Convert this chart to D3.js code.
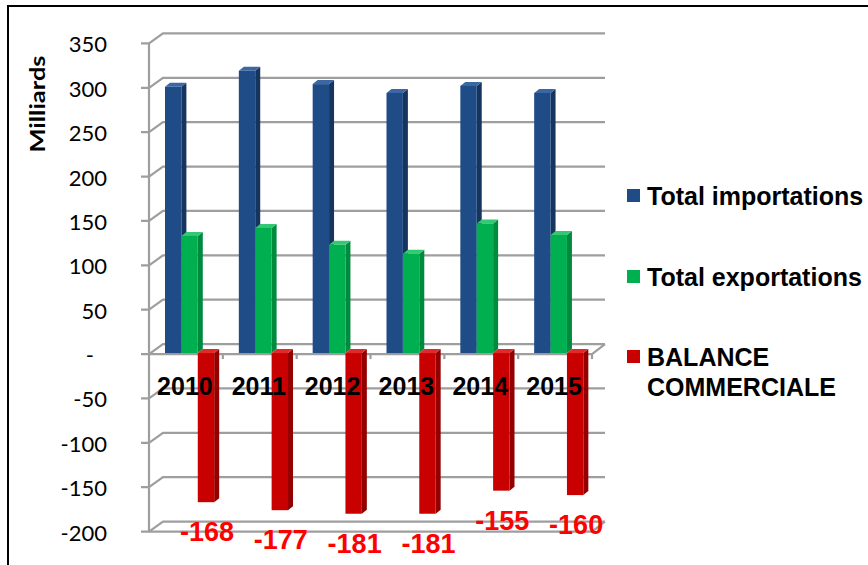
<!DOCTYPE html>
<html>
<head>
<meta charset="utf-8">
<script src="https://d3js.org/d3.v7.min.js"></script>
<style>
  body { margin: 0; background: #fff; }
  svg { display: block; }
</style>
</head>
<body>
<div id="chart"></div>
<script>
const years = ['2010', '2011', '2012', '2013', '2014', '2015'];
const importations = [300, 318, 303, 293, 301, 293];
const exportations = [132, 141, 122, 112, 146, 133];
const balance = [-168, -177, -181, -181, -155, -160];
const tickValues = [350, 300, 250, 200, 150, 100, 50, 0, -50, -100, -150, -200];
const seriesNames = ['Total importations', 'Total exportations', 'BALANCE COMMERCIALE'];

const width = 868, height = 565;
const depth = { x: 14, y: -10 };      // back wall offset
const barDepth = { x: 5, y: -4 };     // bar side/top offset

const colors = [
  { front: '#1f4b86', side: '#15345e', top: '#3b68a3' },
  { front: '#00b050', side: '#008a3e', top: '#35c873' },
  { front: '#c80000', side: '#940000', top: '#e02a2a' }
];

const svg = d3.select('#chart').append('svg')
  .attr('width', width)
  .attr('height', height);

// outer frame
svg.append('rect')
  .attr('x', 8).attr('y', 6)
  .attr('width', 900).attr('height', 600)
  .attr('fill', 'none')
  .attr('stroke', '#000')
  .attr('stroke-width', 2);

const x = d3.scaleBand()
  .domain(years)
  .range([149, 592]);

const y = d3.scaleLinear()
  .domain([-200, 350])
  .range([531.6, 43.4]);

const grid = svg.append('g')
  .attr('stroke', '#9e9e9e')
  .attr('stroke-width', 2.2)
  .attr('fill', 'none');

tickValues.forEach(v => {
  const yy = y(v);
  grid.append('path')
    .attr('d', `M141,${yy}H149L${149 + depth.x},${yy + depth.y}H605`);
});

// front vertical axis
grid.append('line')
  .attr('x1', 149).attr('x2', 149)
  .attr('y1', y(350)).attr('y2', y(-200));

// floor at zero and at the bottom
[0, -200].forEach(v => {
  grid.append('path')
    .attr('d', `M149,${y(v)}H592L605,${y(v) + depth.y}`);
});

// category ticks on zero line
years.forEach((d, i) => {
  const xx = x(d) + x.bandwidth();
  grid.append('line')
    .attr('x1', xx).attr('x2', xx)
    .attr('y1', y(0)).attr('y2', y(0) + 5);
});

// y tick labels
const yAxis = svg.append('g')
  .attr('transform', 'translate(107,0)');

yAxis.selectAll('text')
  .data(tickValues)
  .join('text')
  .attr('x', d => d === 0 ? -13 : 0)
  .attr('y', d => y(d) + 9)
  .attr('text-anchor', 'end')
  .attr('font-family', 'Lato, "Open Sans", sans-serif')
  .attr('font-size', 22)
  .attr('fill', '#000')
  .text(d => d === 0 ? '-' : d);

// y axis title
svg.append('text')
  .attr('transform', 'translate(45,104) rotate(-90)')
  .attr('text-anchor', 'middle')
  .attr('font-family', 'Lato, "Liberation Sans", sans-serif')
  .attr('font-weight', 'bold')
  .attr('font-size', 21)
  .attr('textLength', 97)
  .attr('lengthAdjust', 'spacingAndGlyphs')
  .text('Milliards');

// bars
const bw = x.bandwidth() * 0.222;
const series = [importations, exportations, balance];

function drawBar(g, x0, v, c) {
  const y0 = y(0) - 1;
  const y1 = y(v) - 1;
  const top = Math.min(y0, y1), bottom = Math.max(y0, y1);
  // side face
  g.append('path')
    .attr('d', `M${x0 + bw},${top}L${x0 + bw + barDepth.x},${top + barDepth.y}V${bottom + barDepth.y}L${x0 + bw},${bottom}Z`)
    .attr('fill', c.side);
  // top face
  g.append('path')
    .attr('d', `M${x0},${top}L${x0 + barDepth.x},${top + barDepth.y}H${x0 + bw + barDepth.x}L${x0 + bw},${top}Z`)
    .attr('fill', c.top);
  // front face
  g.append('rect')
    .attr('x', x0).attr('y', top)
    .attr('width', bw).attr('height', bottom - top)
    .attr('fill', c.front);
}

const bars = svg.append('g');
years.forEach((yr, i) => {
  series.forEach((s, k) => {
    const x0 = x(yr) + 16 + k * bw;
    drawBar(bars, x0, s[i], colors[k]);
  });
});

// year labels
svg.append('g')
  .selectAll('text')
  .data(years)
  .join('text')
  .attr('x', d => x(d) + x.bandwidth() / 2 - 1)
  .attr('y', 395)
  .attr('text-anchor', 'middle')
  .attr('font-family', '"Liberation Sans", Arial, sans-serif')
  .attr('font-weight', 'bold')
  .attr('font-size', 25)
  .attr('fill', '#000')
  .text(d => d);

// balance value labels
svg.append('g')
  .selectAll('text')
  .data(balance)
  .join('text')
  .attr('x', (d, i) => x(years[i]) + 16 + 2 * bw + bw / 2 + 1)
  .attr('y', d => y(d) + 38)
  .attr('text-anchor', 'middle')
  .attr('font-family', '"Liberation Sans", Arial, sans-serif')
  .attr('font-weight', 'bold')
  .attr('font-size', 27)
  .attr('fill', '#ff0000')
  .text(d => d);

// legend
const legendY = [189, 270, 350];
const legend = svg.append('g')
  .attr('font-family', '"Liberation Sans", Arial, sans-serif')
  .attr('font-weight', 'bold')
  .attr('font-size', 25)
  .attr('fill', '#000');

seriesNames.forEach((name, k) => {
  legend.append('rect')
    .attr('x', 627).attr('y', legendY[k])
    .attr('width', 13).attr('height', 13)
    .attr('fill', colors[k].front);
  const t = legend.append('text')
    .attr('x', 647)
    .attr('y', legendY[k] + 16);
  if (k === 2) {
    t.append('tspan').attr('x', 647).text('BALANCE');
    t.append('tspan').attr('x', 647).attr('dy', 30).text('COMMERCIALE');
  } else {
    t.text(name);
  }
});
</script>
</body>
</html>
